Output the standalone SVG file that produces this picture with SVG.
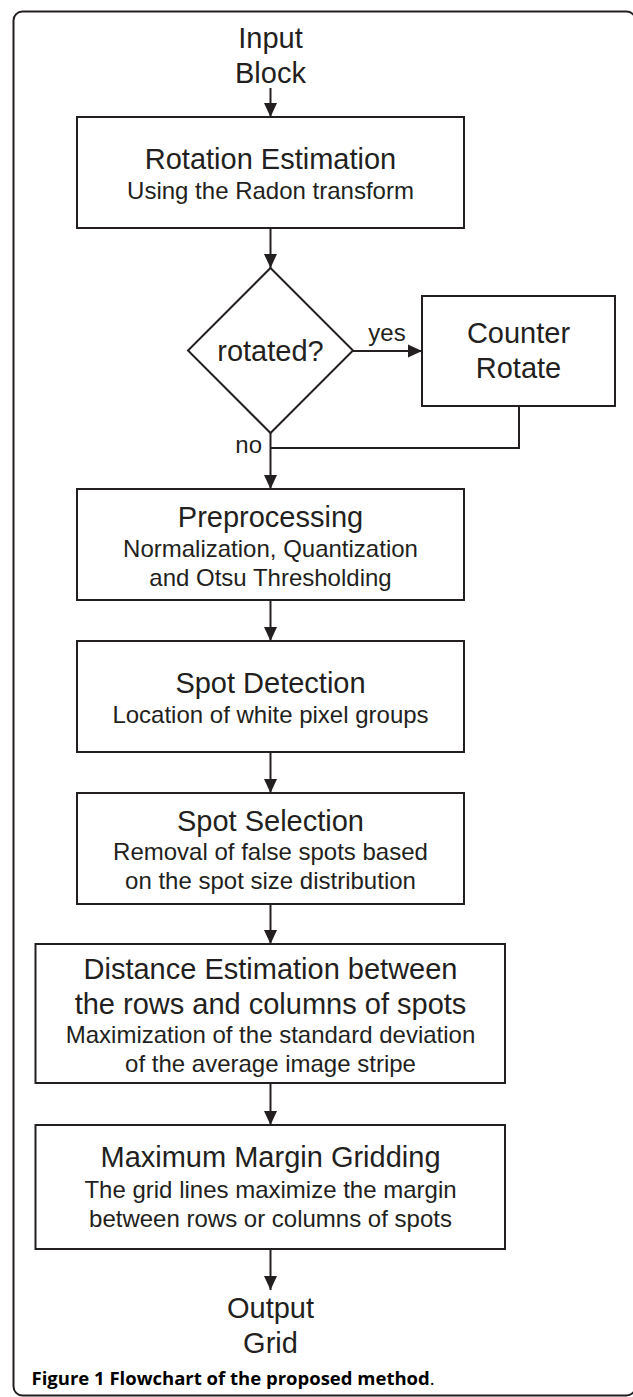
<svg xmlns="http://www.w3.org/2000/svg" width="633" height="1397" viewBox="0 0 633 1397">
  <style>
    .box { fill: #ffffff; stroke: #231f20; stroke-width: 2; }
    .wire { fill: none; stroke: #231f20; stroke-width: 2; }
    .big { font-family: "Liberation Sans", Arial, sans-serif; font-size: 29px; fill: #231f20; text-anchor: middle; }
    .small { font-family: "Liberation Sans", Arial, sans-serif; font-size: 24px; fill: #231f20; text-anchor: middle; }
    .caption { font-family: "Open Sans", "Noto Sans", sans-serif; font-size: 18.5px; fill: #000000; font-weight: bold; }
  </style>
  <defs>
    <marker id="arrow" viewBox="0 0 14 14" refX="14" refY="7" markerWidth="14" markerHeight="14" markerUnits="userSpaceOnUse" orient="auto">
      <path d="M0,0.5 L14,7 L0,13.5 Z" fill="#231f20"/>
    </marker>
  </defs>

  <rect width="633" height="1397" fill="#ffffff"/>

  <!-- outer frame -->
  <rect id="frame" x="13.5" y="11.5" width="622" height="1384" rx="9" ry="9" fill="none" stroke="#231f20" stroke-width="2"/>

  <!-- connectors -->
  <g id="connectors">
    <line class="wire" x1="270.5" y1="88" x2="270.5" y2="117" marker-end="url(#arrow)"/>
    <line class="wire" x1="270.5" y1="228" x2="270.5" y2="268" marker-end="url(#arrow)"/>
    <line class="wire" x1="352.5" y1="351" x2="422" y2="351" marker-end="url(#arrow)"/>
    <polyline class="wire" points="519,406 519,448 270.5,448"/>
    <line class="wire" x1="270.5" y1="433" x2="270.5" y2="489" marker-end="url(#arrow)"/>
    <line class="wire" x1="270.5" y1="600" x2="270.5" y2="641" marker-end="url(#arrow)"/>
    <line class="wire" x1="270.5" y1="752" x2="270.5" y2="793" marker-end="url(#arrow)"/>
    <line class="wire" x1="270.5" y1="904" x2="270.5" y2="944" marker-end="url(#arrow)"/>
    <line class="wire" x1="270.5" y1="1083" x2="270.5" y2="1125" marker-end="url(#arrow)"/>
    <line class="wire" x1="270.5" y1="1249" x2="270.5" y2="1290" marker-end="url(#arrow)"/>
    <text class="small" x="387" y="341">yes</text>
    <text class="small" x="262" y="453" style="text-anchor:end">no</text>
  </g>

  <g id="input">
    <text class="big" x="270.5" y="48">Input</text>
    <text class="big" x="270.5" y="83">Block</text>
  </g>

  <g id="rotation-estimation">
    <rect class="box" x="77" y="117" width="387" height="111"/>
    <text class="big" x="270.5" y="169">Rotation Estimation</text>
    <text class="small" x="270.5" y="199">Using the Radon transform</text>
  </g>

  <g id="rotated-decision">
    <polygon class="box" points="270.5,268 353,350.5 270.5,433 188,350.5"/>
    <text class="big" x="270.5" y="361">rotated?</text>
  </g>

  <g id="counter-rotate">
    <rect class="box" x="422" y="296" width="193" height="110"/>
    <text class="big" x="518.5" y="343">Counter</text>
    <text class="big" x="518.5" y="378">Rotate</text>
  </g>

  <g id="preprocessing">
    <rect class="box" x="77" y="489" width="387" height="111"/>
    <text class="big" x="270.5" y="527">Preprocessing</text>
    <text class="small" x="270.5" y="557">Normalization, Quantization</text>
    <text class="small" x="270.5" y="586">and Otsu Thresholding</text>
  </g>

  <g id="spot-detection">
    <rect class="box" x="77" y="641" width="387" height="111"/>
    <text class="big" x="270.5" y="693">Spot Detection</text>
    <text class="small" x="270.5" y="723">Location of white pixel groups</text>
  </g>

  <g id="spot-selection">
    <rect class="box" x="77" y="793" width="387" height="111"/>
    <text class="big" x="270.5" y="831">Spot Selection</text>
    <text class="small" x="270.5" y="860">Removal of false spots based</text>
    <text class="small" x="270.5" y="889">on the spot size distribution</text>
  </g>

  <g id="distance-estimation">
    <rect class="box" x="35.5" y="944" width="469.5" height="139"/>
    <text class="big" x="270.5" y="979">Distance Estimation between</text>
    <text class="big" x="270.5" y="1013.5">the rows and columns of spots</text>
    <text class="small" x="270.5" y="1043">Maximization of the standard deviation</text>
    <text class="small" x="270.5" y="1072">of the average image stripe</text>
  </g>

  <g id="maximum-margin-gridding">
    <rect class="box" x="35.5" y="1125" width="469.5" height="124"/>
    <text class="big" x="270.5" y="1167">Maximum Margin Gridding</text>
    <text class="small" x="270.5" y="1198">The grid lines maximize the margin</text>
    <text class="small" x="270.5" y="1227">between rows or columns of spots</text>
  </g>

  <g id="output">
    <text class="big" x="270.5" y="1318">Output</text>
    <text class="big" x="270.5" y="1353">Grid</text>
  </g>

  <text class="caption" x="31.5" y="1385">Figure 1 Flowchart of the proposed method<tspan font-weight="normal">.</tspan></text>
</svg>
